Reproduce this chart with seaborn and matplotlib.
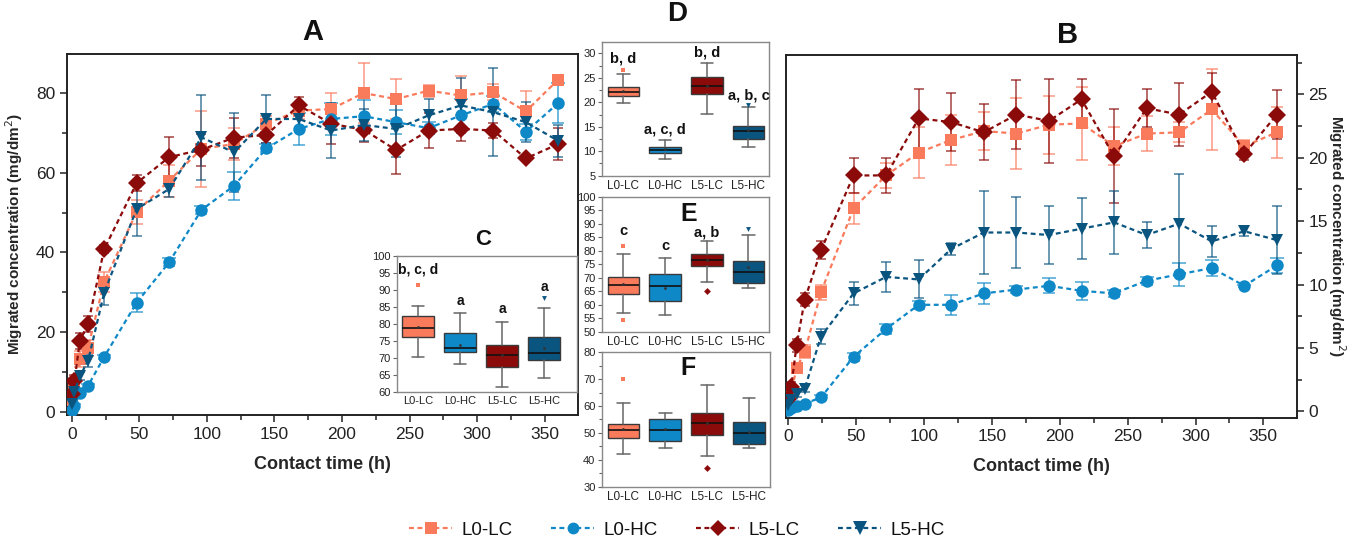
import numpy as np
import pandas as pd
import matplotlib
matplotlib.use('Agg')
import matplotlib.pyplot as plt
import seaborn as sns
from matplotlib import font_manager
from matplotlib.ticker import MultipleLocator
from matplotlib.lines import Line2D

# ---------------- data ----------------
times = [0, 2, 6, 12, 24, 48, 72, 96, 120, 144, 168, 192, 216, 240, 264, 288, 312, 336, 360]
series = ['L0-LC', 'L0-HC', 'L5-LC', 'L5-HC']

# Panel A (mg/dm2)
a_l0lc = [3, 5.5, 13.2, 16.1, 32.6, 50.2, 58, 66, 67.2, 72.3, 75.6, 76, 80, 78.5, 80.6, 79.4, 80.2, 75.4, 83.4]
a_l0hc = [0.5, 1.4, 4.8, 6.5, 13.8, 27.4, 37.5, 50.7, 56.7, 66.1, 71, 73.5, 74.2, 72.7, 71.2, 74.4, 77.3, 70.3, 77.5]
a_l5lc = [4.5, 7.7, 17.8, 22, 40.8, 57.4, 63.9, 65.8, 68.8, 69.5, 76.9, 72.3, 70.8, 65.7, 70.6, 71, 70.6, 63.6, 67.2]
a_l5hc = [2, 5, 9, 12.7, 29.9, 50.9, 55.9, 68.9, 65.1, 73.5, 73.5, 70.6, 72, 71, 74.4, 76.9, 75.2, 72.7, 68]
a_l0lc_err = [1, 1.5, 2, 2, 2.5, 3, 4, 9.5, 4, 2, 2, 4, 7.6, 5, 1.5, 5, 2, 5, 1]
a_l0hc_err = [0.3, 0.5, 0.5, 0.5, 0.5, 2.3, 1, 1, 3.5, 1, 4, 4, 4, 3, 1.5, 4, 2, 2, 5]
a_l5lc_err = [1, 1.5, 2, 2, 1, 2, 5, 4, 5, 2, 2, 5, 3, 6, 4.5, 3, 2, 0.5, 4]
a_l5hc_err = [1, 1, 1, 1.5, 3, 6.7, 2, 10.7, 10, 6, 2, 7, 4, 7, 4, 7, 11, 5, 4]

# Panel B (mg/dm2)
b_l0lc = [0.5, 1.5, 3.4, 4.7, 9.4, 16, 18.6, 20.4, 21.4, 22.1, 21.9, 22.6, 22.7, 20.9, 21.9, 22, 23.8, 20.9, 22]
b_l0hc = [0.1, 0.3, 0.4, 0.6, 1.1, 4.3, 6.5, 8.4, 8.4, 9.3, 9.6, 9.9, 9.5, 9.3, 10.3, 10.8, 11.3, 9.9, 11.5]
b_l5lc = [1, 1.9, 5.2, 8.8, 12.7, 18.6, 18.6, 23.1, 22.8, 22.0, 23.4, 22.9, 24.6, 20.1, 23.9, 23.4, 25.2, 20.3, 23.4]
b_l5hc = [0.5, 0.9, 1.4, 1.8, 5.9, 9.3, 10.6, 10.4, 12.8, 14.1, 14.1, 13.9, 14.4, 14.9, 13.9, 14.8, 13.4, 14.2, 13.5]
b_l0lc_err = [0.2, 0.3, 0.4, 0.5, 0.6, 1.2, 1.0, 2.0, 2.0, 1.5, 2.8, 2.3, 2.9, 1.5, 1.4, 0.8, 3.2, 0.5, 2.0]
b_l0hc_err = [0.1, 0.1, 0.1, 0.1, 0.2, 0.3, 0.4, 0.3, 0.8, 0.8, 0.3, 0.6, 0.7, 0.3, 0.3, 0.9, 0.6, 0.1, 0.6]
b_l5lc_err = [0.3, 0.4, 0.5, 0.5, 0.7, 1.4, 1.4, 2.3, 2.3, 2.2, 2.7, 3.3, 1.6, 3.7, 1.5, 2.5, 1.5, 0.5, 1.9]
b_l5hc_err = [0.2, 0.2, 0.3, 0.3, 0.6, 0.9, 1.2, 1.5, 0.5, 3.3, 2.8, 2.3, 2.4, 2.5, 1.0, 3.9, 1.2, 0.4, 2.7]

# Box panels: whisker low, q1, median, q3, whisker high, mean, outliers
c_whislo = [70.2, 68.2, 61.7, 64.1]
c_q1 = [76.3, 71.9, 67.5, 69.5]
c_med = [78.8, 73.1, 71.0, 71.4]
c_q3 = [82.2, 77.3, 73.9, 76.1]
c_whishi = [85.3, 83.2, 80.5, 84.6]
c_mean = [79.0, 74.0, 71.0, 72.9]
c_fliers = [[91.5], [], [], [87.6]]
c_letters = ['b, c, d', 'a', 'a', 'a']
c_letter_y = [95.9, 86.8, 84.4, 90.7]

d_whislo = [19.8, 8.5, 17.7, 10.8]
d_q1 = [21.3, 9.6, 21.8, 12.5]
d_med = [22.2, 10.2, 23.3, 14.1]
d_q3 = [23.1, 10.8, 25.2, 15.1]
d_whishi = [25.8, 12.2, 28.0, 19.0]
d_mean = [22.3, 10.4, 23.3, 14.3]
d_fliers = [[26.6], [], [], [19.4]]
d_letters = ['b, d', 'a, c, d', 'b, d', 'a, b, c']
d_letter_y = [29.0, 14.5, 30.1, 21.5]

e_whislo = [57.1, 56.2, 68.6, 66.1]
e_q1 = [64.0, 61.5, 74.2, 68.0]
e_med = [67.2, 67.0, 76.7, 72.1]
e_q3 = [70.2, 71.5, 78.8, 76.1]
e_whishi = [78.9, 77.3, 83.7, 85.7]
e_mean = [67.6, 66.1, 76.7, 73.9]
e_fliers = [[81.9, 54.3], [], [65.1], [88.1]]
e_letters = ['c', 'c', 'a, b', '']
e_letter_y = [87.2, 81.9, 86.9, 0]

f_whislo = [42.0, 44.5, 41.5, 44.5]
f_q1 = [48.0, 47.0, 49.2, 45.8]
f_med = [51.1, 51.1, 53.6, 49.9]
f_q3 = [53.3, 55.2, 57.5, 54.2]
f_whishi = [61.0, 57.5, 67.8, 62.9]
f_mean = [51.5, 51.3, 53.6, 50.5]
f_fliers = [[70.0], [], [37.1], []]

# ---------------- style ----------------
colors = {'L0-LC': '#FA7A5C', 'L0-HC': '#0F88C8', 'L5-LC': '#8B0A0A', 'L5-HC': '#0A5580'}
markers = {'L0-LC': 's', 'L0-HC': 'o', 'L5-LC': 'D', 'L5-HC': 'v'}
msizes = {'L0-LC': 8, 'L0-HC': 8.5, 'L5-LC': 8, 'L5-HC': 9.5}

sns.set_theme(style='ticks')
names = {f.name for f in font_manager.fontManager.ttflist}
narrow = 'Liberation Sans Narrow' if 'Liberation Sans Narrow' in names else 'Liberation Sans'
plt.rcParams['font.family'] = [narrow, 'DejaVu Sans']
plt.rcParams['axes.edgecolor'] = '#222222'
plt.rcParams['xtick.color'] = '#222222'
plt.rcParams['ytick.color'] = '#222222'
plt.rcParams['text.color'] = '#111111'

fig = plt.figure(figsize=(13.54, 5.43), dpi=100)

ax_a = fig.add_axes([0.0495, 0.2357, 0.3774, 0.6648])
ax_b = fig.add_axes([0.5805, 0.2308, 0.3772, 0.6680])
ax_c = fig.add_axes([0.2930, 0.2775, 0.1330, 0.2516])
ax_d = fig.add_axes([0.4444, 0.6764, 0.1238, 0.2468])
ax_e = fig.add_axes([0.4444, 0.3891, 0.1238, 0.2486])
ax_f = fig.add_axes([0.4444, 0.1037, 0.1243, 0.2475])


def line_panel(ax, vals, errs):
    df = pd.DataFrame({
        'time': times * len(series),
        'value': [v for arr in vals for v in arr],
        'series': [s for s in series for _ in times],
    })
    for s, v, e in zip(series, vals, errs):
        ax.errorbar(times, v, yerr=e, fmt='none', ecolor=colors[s], alpha=0.65,
                    capsize=3.5, elinewidth=1.3, capthick=1.3, zorder=2)
    sns.lineplot(data=df, x='time', y='value', hue='series', style='series',
                 palette=colors, markers=markers, dashes={s: (2.2, 1.6) for s in series},
                 linewidth=1.6, markersize=9, markeredgewidth=0, ax=ax,
                 legend=False, zorder=3, hue_order=series, style_order=series)
    for line, s in zip(ax.get_lines(), series):
        line.set_markersize(msizes[s])
    ax.set_xlim(-3.5, 374.6)
    ax.xaxis.set_major_locator(MultipleLocator(50))
    ax.xaxis.set_minor_locator(MultipleLocator(25))
    ax.tick_params(which='major', direction='out', length=5, width=1.1, labelsize=12.5)
    ax.tick_params(which='minor', direction='out', length=3.5, width=1.1)
    for sp in ax.spines.values():
        sp.set_linewidth(1.4)
        sp.set_color('#222222')
    ax.set_xlabel('Contact time (h)', fontsize=13, fontweight='bold', labelpad=10)


line_panel(ax_a, [a_l0lc, a_l0hc, a_l5lc, a_l5hc], [a_l0lc_err, a_l0hc_err, a_l5lc_err, a_l5hc_err])
ax_a.set_ylim(-0.8, 89.8)
ax_a.yaxis.set_major_locator(MultipleLocator(20))
ax_a.yaxis.set_minor_locator(MultipleLocator(10))
ax_a.set_ylabel('Migrated concentration (mg/dm$^2$)', fontsize=11, fontweight='bold', labelpad=8)
ax_a.text(0.481, 1.061, 'A', transform=ax_a.transAxes, ha='center', va='center',
          fontsize=21, fontweight='bold')

line_panel(ax_b, [b_l0lc, b_l0hc, b_l5lc, b_l5hc], [b_l0lc_err, b_l0hc_err, b_l5lc_err, b_l5hc_err])
ax_b.set_xlim(-1.8, 374.6)
ax_b.set_ylim(-0.5, 28.1)
ax_b.yaxis.set_major_locator(MultipleLocator(5))
ax_b.yaxis.set_minor_locator(MultipleLocator(2.5))
ax_b.yaxis.tick_right()
ax_b.yaxis.set_label_position('right')
ax_b.set_ylabel('Migrated concentration (mg/dm$^2$)', fontsize=11, fontweight='bold',
                rotation=270, labelpad=14)
ax_b.text(0.552, 1.055, 'B', transform=ax_b.transAxes, ha='center', va='center',
          fontsize=21, fontweight='bold')


def box_panel(ax, whislo, q1, med, q3, whishi, mean, fliers, ylim, major, minor,
              xlim=(-0.52, 3.5), xlabelsize=8.5, ylabelsize=8):
    stats = []
    for i, s in enumerate(series):
        stats.append(dict(whislo=whislo[i], q1=q1[i], med=med[i], q3=q3[i],
                          whishi=whishi[i], mean=mean[i], fliers=fliers[i], label=s))
    res = ax.bxp(stats, positions=range(4), widths=0.76, patch_artist=True,
                 showmeans=True, capwidths=0.3,
                 boxprops=dict(edgecolor='#3a3a3a', linewidth=1.0),
                 medianprops=dict(color='#111111', linewidth=1.2),
                 whiskerprops=dict(color='#666666', linewidth=1.1),
                 capprops=dict(color='#666666', linewidth=1.1),
                 meanprops=dict(marker='o', markersize=2, markeredgewidth=0),
                 flierprops=dict(marker='s', markersize=3.5, markeredgewidth=0))
    for i, s in enumerate(series):
        res['boxes'][i].set_facecolor(colors[s])
        res['fliers'][i].set_marker(markers[s])
        res['fliers'][i].set_markerfacecolor(colors[s])
        res['fliers'][i].set_markeredgecolor(colors[s])
        res['means'][i].set_markerfacecolor('#333333')
    ax.set_facecolor('white')
    ax.set_xlim(*xlim)
    ax.set_ylim(*ylim)
    ax.yaxis.set_major_locator(MultipleLocator(major))
    ax.yaxis.set_minor_locator(MultipleLocator(minor))
    ax.tick_params(axis='y', which='major', direction='out', length=3, width=0.8,
                   labelsize=ylabelsize, pad=1.5, color='#666666')
    ax.tick_params(axis='y', which='minor', direction='out', length=2, width=0.8, color='#666666')
    ax.tick_params(axis='x', length=0, labelsize=xlabelsize, pad=3)
    for sp in ax.spines.values():
        sp.set_color('#888888')
        sp.set_linewidth(1.0)
    ax.grid(False)


box_panel(ax_c, c_whislo, c_q1, c_med, c_q3, c_whishi, c_mean, c_fliers, (60, 100), 5, 5,
          xlim=(-0.51, 3.78), xlabelsize=8, ylabelsize=8)
for i, (lab, y) in enumerate(zip(c_letters, c_letter_y)):
    ax_c.text(i, y, lab, ha='center', va='center', fontsize=10, fontweight='bold')
ax_c.text(0.48, 1.115, 'C', transform=ax_c.transAxes, ha='center', va='center',
          fontsize=16, fontweight='bold')

box_panel(ax_d, d_whislo, d_q1, d_med, d_q3, d_whishi, d_mean, d_fliers, (5, 32.4), 5, 2.5)
for i, (lab, y) in enumerate(zip(d_letters, d_letter_y)):
    ax_d.text(i, y, lab, ha='center', va='center', fontsize=10.5, fontweight='bold')
ax_d.text(0.45, 1.207, 'D', transform=ax_d.transAxes, ha='center', va='center',
          fontsize=20, fontweight='bold')

box_panel(ax_e, e_whislo, e_q1, e_med, e_q3, e_whishi, e_mean, e_fliers, (50, 100), 5, 5)
for i, (lab, y) in enumerate(zip(e_letters, e_letter_y)):
    if lab:
        ax_e.text(i, y, lab, ha='center', va='center', fontsize=10.5, fontweight='bold')
ax_e.text(0.52, 0.875, 'E', transform=ax_e.transAxes, ha='center', va='center',
          fontsize=18, fontweight='bold')

box_panel(ax_f, f_whislo, f_q1, f_med, f_q3, f_whishi, f_mean, f_fliers, (30, 80), 10, 5)
ax_f.text(0.515, 0.883, 'F', transform=ax_f.transAxes, ha='center', va='center',
          fontsize=18, fontweight='bold')

handles = [Line2D([0], [0], color=colors[s], linestyle=(0, (2.2, 1.6)), linewidth=1.6,
                  marker=markers[s], markersize=msizes[s], markeredgewidth=0)
           for s in series]
fig.legend(handles, series, loc='center', bbox_to_anchor=(0.5, 0.024), ncol=4,
           frameon=False, fontsize=13.5, handlelength=2.3, handletextpad=0.5,
           columnspacing=2.05)

fig.savefig('out.png', dpi=100)
